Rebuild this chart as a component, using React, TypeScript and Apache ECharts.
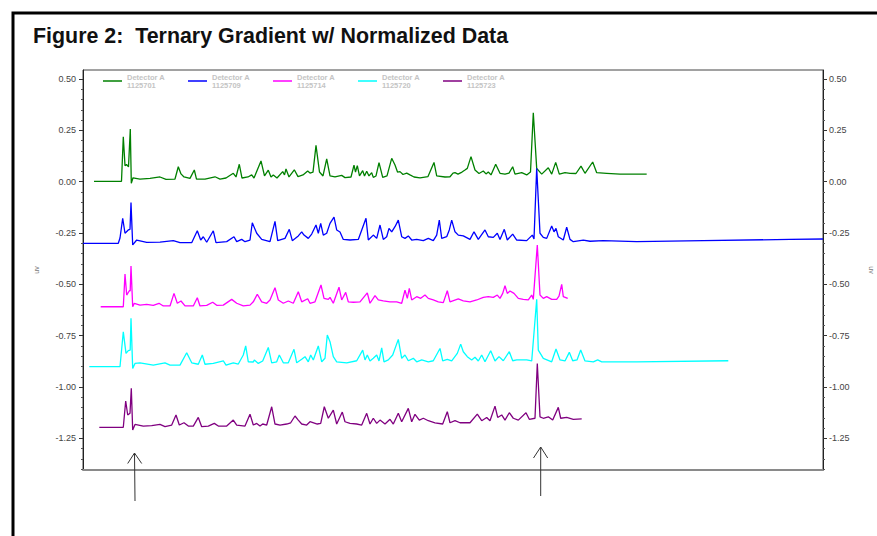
import React, { useEffect, useRef } from 'react';
import * as echarts from 'echarts';

// ---- data (retention time in arbitrary minutes, response in uv) ----
const sampleIds = ['1125701', '1125709', '1125714', '1125720', '1125723'];
const detectorLabel = 'Detector A';
const traceColors = ['#008000', '#0000ff', '#ff00ff', '#00ffff', '#800080'];

const run1125701: [number, number][] = [
  [1.1, 0.002], [3.85, 0.002], [4.03, 0.219], [4.2, 0.078], [4.35, 0.084], [4.55, 0.072], [4.73, 0.257], [4.83, -0.008],
  [5.0, 0.019], [5.7, 0.013], [6.7, 0.016], [7.7, 0.023], [8.3, 0.011], [9.2, 0.013], [9.53, 0.073], [9.8, 0.038],
  [10.1, 0.023], [10.7, 0.016], [11.13, 0.057], [11.35, 0.013], [12.2, 0.013], [13.2, 0.024], [13.7, 0.013], [14.3, 0.018],
  [15.03, 0.041], [15.3, 0.023], [15.63, 0.085], [15.9, 0.018], [16.5, 0.023], [16.87, 0.033], [17.1, 0.018], [17.8, 0.101],
  [18.15, 0.028], [18.53, 0.056], [18.8, 0.023], [19.03, 0.033], [19.4, 0.018], [19.97, 0.049], [20.15, 0.033], [20.3, 0.062],
  [20.6, 0.023], [21.13, 0.058], [21.5, 0.025], [22.0, 0.033], [22.47, 0.052], [22.7, 0.042], [23.0, 0.047], [23.3, 0.177],
  [23.65, 0.047], [24.0, 0.028], [24.37, 0.111], [24.7, 0.028], [25.2, 0.023], [25.87, 0.031], [26.2, 0.02], [26.8, 0.023],
  [27.1, 0.081], [27.25, 0.047], [27.43, 0.078], [27.65, 0.028], [27.97, 0.054], [28.15, 0.028], [28.37, 0.051], [28.6, 0.028],
  [28.87, 0.044], [29.03, 0.021], [29.3, 0.028], [29.6, 0.093], [29.97, 0.021], [30.4, 0.028], [30.87, 0.114], [31.2, 0.081],
  [31.45, 0.047], [31.7, 0.049], [32.0, 0.035], [32.37, 0.042], [32.7, 0.033], [33.1, 0.023], [33.7, 0.019], [34.5, 0.025],
  [35.1, 0.094], [35.37, 0.028], [36.2, 0.023], [36.7, 0.024], [37.0, 0.042], [37.2, 0.044], [37.5, 0.037], [37.9, 0.047],
  [38.2, 0.057], [38.43, 0.065], [38.8, 0.122], [39.2, 0.057], [39.6, 0.04], [40.03, 0.052], [40.3, 0.038], [40.53, 0.047],
  [40.8, 0.033], [41.27, 0.085], [41.7, 0.041], [42.2, 0.037], [42.6, 0.042], [42.97, 0.073], [43.2, 0.037], [43.87, 0.044],
  [44.37, 0.033], [44.75, 0.047], [45.03, 0.336], [45.37, 0.065], [45.87, 0.037], [46.53, 0.068], [46.87, 0.037], [47.27, 0.094],
  [47.63, 0.037], [48.2, 0.044], [48.7, 0.041], [49.3, 0.04], [49.8, 0.076], [50.2, 0.041], [50.97, 0.096], [51.37, 0.044],
  [52.37, 0.041], [53.7, 0.037], [56.37, 0.037],
];

const run1125709: [number, number][] = [
  [0, -0.3], [3.53, -0.3], [3.7, -0.274], [3.97, -0.178], [4.2, -0.251], [4.53, -0.235], [4.7, -0.232], [4.8, -0.102],
  [4.97, -0.308], [5.37, -0.284], [6.37, -0.295], [7.7, -0.294], [9.03, -0.287], [9.7, -0.297], [10.87, -0.297], [11.43, -0.239],
  [11.77, -0.284], [12.03, -0.268], [12.37, -0.295], [13.03, -0.239], [13.3, -0.297], [14.37, -0.292], [15.1, -0.268], [15.37, -0.292],
  [15.87, -0.281], [16.2, -0.292], [16.7, -0.284], [16.93, -0.2], [17.37, -0.251], [17.87, -0.281], [18.7, -0.292], [19.2, -0.193],
  [19.47, -0.287], [20.2, -0.276], [20.63, -0.232], [20.93, -0.287], [21.53, -0.264], [21.87, -0.244], [22.1, -0.26], [22.53, -0.276],
  [22.87, -0.255], [23.3, -0.211], [23.53, -0.251], [23.77, -0.203], [24.03, -0.26], [24.37, -0.251], [24.7, -0.203], [25.1, -0.173],
  [25.37, -0.235], [25.7, -0.245], [26.03, -0.281], [26.7, -0.284], [27.53, -0.281], [28.3, -0.178], [28.53, -0.284], [29.03, -0.26],
  [29.37, -0.276], [29.7, -0.211], [30.03, -0.281], [30.37, -0.268], [30.6, -0.227], [30.87, -0.244], [31.2, -0.219], [31.53, -0.187],
  [31.87, -0.268], [32.2, -0.276], [32.53, -0.264], [32.87, -0.284], [33.37, -0.281], [34.03, -0.287], [34.53, -0.276], [35.03, -0.287],
  [35.37, -0.26], [35.63, -0.187], [35.87, -0.276], [36.37, -0.268], [36.63, -0.235], [36.87, -0.187], [37.2, -0.244], [37.53, -0.26],
  [38.03, -0.264], [38.7, -0.281], [39.1, -0.244], [39.53, -0.281], [40.2, -0.235], [40.53, -0.268], [41.03, -0.271], [41.43, -0.251],
  [41.7, -0.281], [42.13, -0.232], [42.43, -0.284], [42.97, -0.255], [43.37, -0.284], [44.37, -0.287], [44.93, -0.26], [45.1, -0.279],
  [45.37, 0.065], [45.7, -0.251], [46.03, -0.271], [46.37, -0.276], [46.87, -0.216], [47.1, -0.244], [47.3, -0.227], [47.53, -0.268],
  [48.03, -0.284], [48.37, -0.222], [48.7, -0.281], [49.03, -0.292], [50.03, -0.284], [50.7, -0.29], [52.03, -0.287], [55.37, -0.292],
  [62.03, -0.287], [70.7, -0.281], [74, -0.279],
];

const run1125714: [number, number][] = [
  [1.77, -0.609], [4.03, -0.609], [4.2, -0.45], [4.37, -0.552], [4.63, -0.531], [4.72, -0.532], [4.8, -0.411], [4.97, -0.609],
  [5.13, -0.592], [5.7, -0.601], [6.37, -0.597], [7.03, -0.602], [7.6, -0.592], [8.03, -0.605], [8.7, -0.605], [9.1, -0.544],
  [9.43, -0.592], [9.8, -0.581], [10.2, -0.605], [11.03, -0.605], [11.43, -0.565], [11.7, -0.605], [12.37, -0.602], [12.97, -0.587],
  [13.37, -0.602], [14.03, -0.601], [14.87, -0.573], [15.37, -0.592], [16.03, -0.605], [16.7, -0.601], [17.03, -0.585], [17.43, -0.548],
  [17.87, -0.585], [18.37, -0.592], [18.7, -0.576], [19.2, -0.516], [19.53, -0.576], [20.03, -0.592], [20.53, -0.581], [21.03, -0.592],
  [21.53, -0.536], [21.87, -0.585], [22.47, -0.57], [22.7, -0.592], [23.2, -0.585], [23.8, -0.503], [24.1, -0.568], [24.53, -0.573],
  [24.7, -0.563], [25.03, -0.592], [25.6, -0.514], [25.87, -0.576], [26.27, -0.539], [26.53, -0.585], [27.03, -0.587], [27.7, -0.585],
  [28.43, -0.541], [28.7, -0.592], [29.2, -0.555], [29.53, -0.576], [30.03, -0.58], [30.7, -0.585], [31.37, -0.585], [31.87, -0.592],
  [32.2, -0.528], [32.43, -0.568], [32.63, -0.519], [32.87, -0.576], [33.37, -0.56], [33.77, -0.568], [34.2, -0.552], [34.53, -0.568],
  [35.03, -0.576], [35.53, -0.585], [36.03, -0.589], [36.43, -0.531], [36.7, -0.585], [37.53, -0.571], [38.03, -0.58], [38.7, -0.585],
  [39.37, -0.576], [40.03, -0.563], [40.53, -0.56], [41.03, -0.563], [41.43, -0.552], [41.7, -0.568], [41.97, -0.544], [42.2, -0.507],
  [42.43, -0.544], [42.7, -0.532], [43.1, -0.544], [43.53, -0.568], [44.03, -0.573], [44.53, -0.576], [44.87, -0.552], [45.03, -0.573],
  [45.43, -0.308], [45.7, -0.552], [46.03, -0.568], [46.37, -0.56], [46.87, -0.573], [47.37, -0.573], [47.6, -0.557], [47.87, -0.5],
  [48.03, -0.56], [48.47, -0.568],
];

const run1125720: [number, number][] = [
  [0.63, -0.901], [3.7, -0.901], [4.03, -0.731], [4.3, -0.836], [4.53, -0.823], [4.72, -0.82], [4.8, -0.665], [4.97, -0.909],
  [5.2, -0.885], [5.7, -0.882], [7.03, -0.893], [8.2, -0.882], [8.7, -0.893], [9.7, -0.893], [10.37, -0.833], [10.87, -0.882],
  [11.53, -0.889], [11.93, -0.844], [12.2, -0.889], [13.03, -0.885], [14.03, -0.872], [14.3, -0.893], [15.03, -0.882], [15.53, -0.888],
  [16.03, -0.844], [16.27, -0.8], [16.53, -0.877], [17.03, -0.878], [17.13, -0.868], [17.53, -0.885], [17.97, -0.873], [18.53, -0.807],
  [18.87, -0.882], [19.37, -0.877], [19.63, -0.844], [20.03, -0.882], [20.53, -0.882], [21.1, -0.816], [21.37, -0.882], [21.87, -0.865],
  [22.2, -0.852], [22.53, -0.877], [22.77, -0.844], [23.03, -0.868], [23.53, -0.8], [23.87, -0.877], [24.2, -0.86], [24.43, -0.747],
  [24.7, -0.779], [25.03, -0.852], [25.37, -0.877], [26.37, -0.882], [27.37, -0.872], [27.97, -0.82], [28.2, -0.868], [28.43, -0.844],
  [28.7, -0.873], [29.03, -0.86], [29.37, -0.844], [29.6, -0.873], [29.87, -0.809], [30.1, -0.877], [30.53, -0.868], [30.97, -0.844],
  [31.53, -0.768], [31.87, -0.86], [32.2, -0.844], [32.53, -0.872], [33.03, -0.86], [33.37, -0.877], [33.87, -0.868], [34.53, -0.877],
  [35.03, -0.872], [35.7, -0.812], [35.97, -0.873], [36.43, -0.865], [36.87, -0.873], [37.43, -0.836], [37.77, -0.791], [38.03, -0.828],
  [38.43, -0.852], [38.87, -0.868], [39.2, -0.855], [39.53, -0.873], [39.87, -0.844], [40.2, -0.877], [40.77, -0.823], [41.2, -0.873],
  [41.6, -0.852], [42.03, -0.872], [42.63, -0.828], [42.97, -0.872], [43.37, -0.868], [44.37, -0.868], [44.87, -0.873], [45.37, -0.573],
  [45.53, -0.82], [46.03, -0.86], [46.87, -0.877], [47.3, -0.815], [47.7, -0.868], [48.2, -0.873], [48.63, -0.831], [48.97, -0.872],
  [49.4, -0.868], [49.77, -0.82], [50.2, -0.873], [51.03, -0.877], [51.47, -0.868], [51.87, -0.877], [55.37, -0.877], [64.53, -0.872],
];

const run1125723: [number, number][] = [
  [1.63, -1.196], [4.03, -1.196], [4.27, -1.068], [4.47, -1.136], [4.7, -1.128], [4.83, -1.006], [4.97, -1.209], [5.2, -1.182],
  [6.03, -1.19], [6.87, -1.188], [7.7, -1.182], [8.2, -1.193], [8.87, -1.185], [9.3, -1.136], [9.63, -1.185], [10.1, -1.174],
  [10.53, -1.19], [11.03, -1.19], [11.53, -1.148], [11.87, -1.193], [12.53, -1.19], [13.13, -1.177], [13.53, -1.19], [14.37, -1.19],
  [15.03, -1.161], [15.37, -1.185], [16.2, -1.19], [16.7, -1.132], [17.03, -1.185], [17.37, -1.177], [17.7, -1.19], [17.97, -1.18],
  [18.37, -1.185], [18.87, -1.096], [19.2, -1.18], [19.7, -1.185], [20.37, -1.18], [20.77, -1.174], [21.2, -1.141], [21.53, -1.161],
  [21.87, -1.18], [22.37, -1.185], [22.7, -1.169], [23.43, -1.18], [23.77, -1.177], [24.13, -1.096], [24.53, -1.152], [25.03, -1.112],
  [25.37, -1.18], [25.93, -1.122], [26.2, -1.169], [26.7, -1.177], [27.37, -1.18], [27.87, -1.185], [28.37, -1.128], [28.7, -1.18],
  [29.03, -1.152], [29.37, -1.177], [29.7, -1.161], [30.2, -1.18], [30.7, -1.157], [31.03, -1.18], [31.53, -1.128], [31.87, -1.169],
  [32.53, -1.104], [32.87, -1.169], [33.2, -1.133], [33.63, -1.161], [34.03, -1.152], [34.53, -1.164], [35.2, -1.174], [35.97, -1.18],
  [36.43, -1.12], [36.7, -1.174], [37.2, -1.164], [37.7, -1.174], [38.7, -1.174], [39.43, -1.132], [39.87, -1.164], [40.37, -1.148],
  [40.7, -1.164], [41.2, -1.093], [41.47, -1.148], [41.87, -1.136], [42.2, -1.161], [42.63, -1.125], [43.03, -1.152], [43.53, -1.161],
  [44.3, -1.125], [44.63, -1.157], [45.2, -1.152], [45.43, -0.885], [45.7, -1.145], [46.03, -1.152], [46.53, -1.145], [46.97, -1.161],
  [47.53, -1.099], [47.77, -1.152], [48.37, -1.148], [49.03, -1.157], [49.87, -1.155],
];

const traces = [run1125701, run1125709, run1125714, run1125720, run1125723];

// axis extents
const timeRange = [0, 74];
const uvRange = [-1.404, 0.544];
const minorTickRange = [-1.4, 0.5];
const majorTickRange = [-1.25, 0.5];
const minorStep = 0.05;
const majorStep = 0.25;

const FONT = '"Liberation Sans", Arial, Helvetica, sans-serif';

export default function App() {
  const ref = useRef<HTMLDivElement>(null);

  useEffect(() => {
    if (!ref.current) return;
    const chart = echarts.init(ref.current, undefined, { renderer: 'svg' });

    const W = 877;
    const H = 536;
    const plotLeft = 83;
    const plotRight = 823;
    const plotTop = 70;
    const plotBottom = 470;
    const pxPerUnit = (plotBottom - plotTop) / (uvRange[1] - uvRange[0]);
    const yPx = (v: number) => plotTop + (uvRange[1] - v) * pxPerUnit;

    const gridBase = { left: plotLeft, right: W - plotRight, outerBoundsMode: 'none', containLabel: false };
    const hiddenX = (gridIndex: number) => ({
      type: 'value', gridIndex, min: timeRange[0], max: timeRange[1], show: false,
      axisLine: { onZero: false },
    });

    const labelStyle = { fontSize: 9, color: '#444', fontFamily: FONT };

    const option: any = {
      animation: false,
      backgroundColor: '#ffffff',
      title: {
        text: 'Figure 2:  Ternary Gradient w/ Normalized Data',
        left: 33,
        top: 25,
        padding: 0,
        textStyle: { fontSize: 21.4, fontWeight: 'bold', color: '#111', fontFamily: FONT },
      },
      legend: sampleIds.map((id, i) => ({
        data: [id],
        left: 103 + i * 85,
        top: 73,
        padding: 0,
        icon: 'rect',
        itemWidth: 19,
        itemHeight: 1.5,
        selectedMode: false,
        formatter: (n: string) => `${detectorLabel}\n${n}`,
        textStyle: { color: '#c4c4c4', fontSize: 7.5, fontWeight: 'bold', lineHeight: 8, fontFamily: FONT },
      })),
      grid: [
        { ...gridBase, top: plotTop, bottom: H - plotBottom, show: true, borderColor: '#444', borderWidth: 1, backgroundColor: 'transparent' },
        { ...gridBase, top: yPx(minorTickRange[1]), bottom: H - yPx(minorTickRange[0]) },
        { ...gridBase, top: yPx(majorTickRange[1]), bottom: H - yPx(majorTickRange[0]) },
      ],
      xAxis: [
        {
          type: 'value', gridIndex: 0, position: 'bottom', min: timeRange[0], max: timeRange[1],
          axisLine: { show: true, onZero: false, lineStyle: { color: '#8a8a8a', width: 2 } },
          axisTick: { show: false }, axisLabel: { show: false }, splitLine: { show: false },
        },
        hiddenX(1),
        hiddenX(2),
      ],
      yAxis: [
        {
          type: 'value', gridIndex: 0, position: 'left', min: uvRange[0], max: uvRange[1],
          name: 'uv', nameLocation: 'middle', nameGap: 43,
          nameTextStyle: { fontSize: 7, color: '#777', fontFamily: FONT },
          axisLine: { show: true, onZero: false, lineStyle: { color: '#222', width: 1 } },
          axisTick: { show: false }, axisLabel: { show: false }, splitLine: { show: false },
        },
        {
          type: 'value', gridIndex: 0, position: 'right', min: uvRange[0], max: uvRange[1],
          name: 'uv', nameLocation: 'middle', nameGap: 45, nameRotate: -90,
          nameTextStyle: { fontSize: 7, color: '#777', fontFamily: FONT },
          axisLine: { show: true, onZero: false, lineStyle: { color: '#222', width: 1 } },
          axisTick: { show: false }, axisLabel: { show: false }, splitLine: { show: false },
        },
        ...(['left', 'right'] as const).map((pos) => ({
          type: 'value', gridIndex: 1, position: pos,
          min: minorTickRange[0], max: minorTickRange[1], interval: minorStep,
          axisLine: { show: false, onZero: false },
          axisTick: { show: true, length: 2, lineStyle: { color: '#555', width: 1 } },
          axisLabel: { show: false }, splitLine: { show: false },
        })),
        ...(['left', 'right'] as const).map((pos) => ({
          type: 'value', gridIndex: 2, position: pos,
          min: majorTickRange[0], max: majorTickRange[1], interval: majorStep,
          axisLine: { show: false, onZero: false },
          axisTick: { show: true, length: 4, lineStyle: { color: '#333', width: 1 } },
          axisLabel: {
            show: true, margin: pos === 'left' ? 7 : 6, ...labelStyle,
            formatter: (v: number) => v.toFixed(2),
          },
          splitLine: { show: false },
        })),
      ],
      series: traces.map((data, i) => ({
        name: sampleIds[i],
        type: 'line',
        xAxisIndex: 0,
        yAxisIndex: 0,
        data,
        color: traceColors[i],
        showSymbol: false,
        symbol: 'none',
        lineStyle: { color: traceColors[i], width: 1.3 },
        clip: true,
      })),
      graphic: [
        {
          type: 'rect', silent: true, z: 100,
          shape: { x: 13, y: 13, width: 900, height: 600 },
          style: { fill: 'none', stroke: '#000', lineWidth: 3 },
        },
        { type: 'line', z: 100, shape: { x1: 135, y1: 501, x2: 134.5, y2: 453 }, style: { stroke: '#333', lineWidth: 1 } },
        { type: 'polyline', z: 100, shape: { points: [[127.7, 463.5], [134.5, 453], [141.7, 463.5]] }, style: { stroke: '#333', lineWidth: 1, fill: 'none' } },
        { type: 'line', z: 100, shape: { x1: 540.7, y1: 496, x2: 540.7, y2: 447 }, style: { stroke: '#333', lineWidth: 1 } },
        { type: 'polyline', z: 100, shape: { points: [[533.5, 458], [540.7, 447], [547.7, 458]] }, style: { stroke: '#333', lineWidth: 1, fill: 'none' } },
      ],
    };

    chart.setOption(option);
    return () => chart.dispose();
  }, []);

  return (
    <div
      ref={ref}
      style={{ position: 'fixed', left: 0, top: 0, width: 877, height: 536, background: '#fff' }}
    />
  );
}
